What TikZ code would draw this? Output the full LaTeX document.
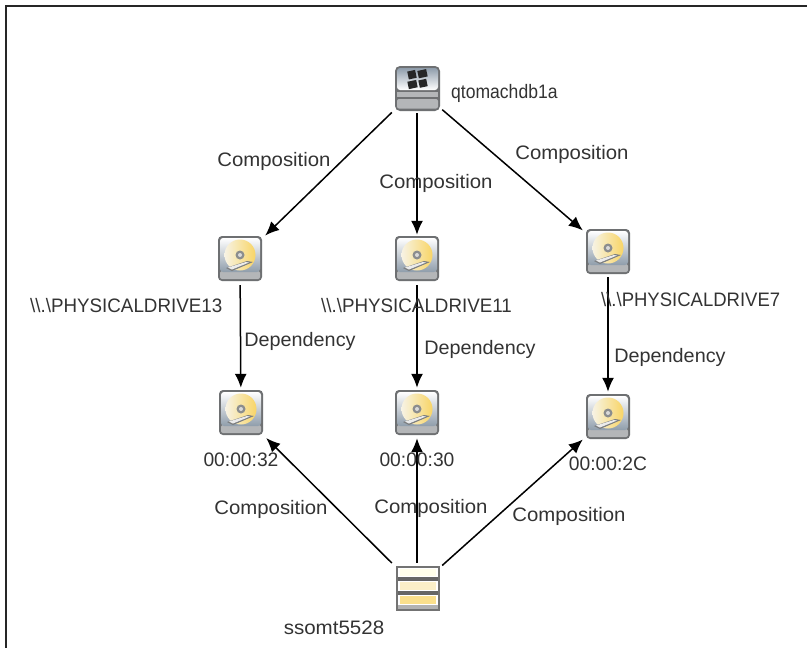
\documentclass[tikz,border=0pt]{standalone}
\usepackage{fontspec}
\setmainfont{Liberation Sans}
\usetikzlibrary{arrows.meta}
\definecolor{steel}{HTML}{8F9DAB}
\definecolor{rimgray}{HTML}{6E7072}
\definecolor{lipgray}{HTML}{B4B6B8}
\definecolor{discy}{HTML}{F8D466}
\definecolor{discw}{HTML}{F7F3E4}
\definecolor{paley}{HTML}{FBEFC8}
\tikzset{
  x=1pt,y=-1pt,
  anchorbox/.style={minimum width=50pt,minimum height=50pt,inner sep=0pt},
  link/.style={draw=black,line width=1.5pt,-{Latex[length=14pt,width=12pt]}},
  lab/.style={font=\fontsize{19.5}{21}\selectfont,text=black!80,inner sep=0pt},
}
\newcommand{\hdicon}[1]{%
  \begin{scope}[shift={(#1)}]
    \fill[rimgray,rounded corners=4pt] (-22,-23) rectangle (22,22);
    \fill[lipgray,rounded corners=2pt] (-20,12) rectangle (20,20);
    \path[top color=white,bottom color=steel,rounded corners=3pt] (-20,-21) rectangle (20,13);
    \path[left color=discw,right color=discy] (0,-4) circle (15.5);
    \fill[rimgray!80] (0,-4) circle (4.5);
    \fill[white!85!black] (0,-4) circle (2);
    \fill[rimgray!90] (-14,9) -- (7,2) -- (13,3) -- (-8,12) -- cycle;
    \fill[white!92!black] (-12,8.5) -- (6,3) -- (9,3.5) -- (-8,10.5) -- cycle;
  \end{scope}}
\begin{document}
\begin{tikzpicture}
\useasboundingbox (0,0) rectangle (807,648);
\fill[white] (0,0) rectangle (807,648);
\draw[line width=2pt,black!85] (6,648) -- (6,5.5) -- (807,5.5);
% invisible nodes
\node[anchorbox] (top) at (417,88) {};
\node[anchorbox] (d13) at (240,260) {};
\node[anchorbox] (d11) at (417,260) {};
\node[anchorbox] (d7) at (608,252) {};
\node[anchorbox] (l32) at (241,413) {};
\node[anchorbox] (l30) at (417,413) {};
\node[anchorbox] (l2c) at (608,417) {};
\node[anchorbox] (bot) at (417,588) {};
% connectors
\draw[link] (top) -- (d13);
\draw[link] (top) -- (d11);
\draw[link] (top) -- (d7);
\draw[link] (d13) -- (l32);
\draw[link] (d11) -- (l30);
\draw[link] (d7) -- (l2c);
\draw[link] (bot) -- (l32);
\draw[link] (bot) -- (l30);
\draw[link] (bot) -- (l2c);
% icons
\hdicon{240,259}\hdicon{417,259}\hdicon{608,252}
\hdicon{241,413}\hdicon{417,413}\hdicon{608,417}
% server icon
\fill[rimgray,rounded corners=5pt] (395,66) rectangle (440,111);
\path[top color=steel,bottom color=white,rounded corners=3pt] (397,68) rectangle (438,90);
\fill[lipgray] (397,91.5) rectangle (438,97);
\fill[lipgray,rounded corners=2pt] (397,99) rectangle (438,108.5);
\begin{scope}[rotate around={12:(418,79)}]
\fill[black!85] (409,69.5) rectangle (417,77.5);
\fill[black!85] (419,71) rectangle (428,78.5);
\fill[black!85] (407,79.5) rectangle (416,87);
\fill[black!85] (418,80.5) rectangle (426,88);
\end{scope}
% storage icon
\fill[black!55] (396,566) rectangle (440,611);
\fill[white] (398,568) rectangle (438,577);
\fill[white!92!yellow] (400,569) rectangle (436,576);
\fill[black!60] (398,577) rectangle (438,581);
\fill[white] (398,581) rectangle (438,591);
\fill[paley] (400,582) rectangle (436,590);
\fill[black!60] (398,591) rectangle (438,595);
\fill[white] (398,595) rectangle (438,605);
\fill[discy!75!white] (400,596) rectangle (436,604);
\fill[black!30] (398,605) rectangle (438,609);
% texts
\node[lab,anchor=west] (t1) at (451,93) {\scalebox{.90}[1]{qtomachdb1a}};
\node[lab,anchor=west] (t2) at (30,306) {\scalebox{.963}[1]{\textbackslash\textbackslash.\textbackslash PHYSICALDRIVE13}};
\node[lab,anchor=west] (t3) at (321,306) {\scalebox{.963}[1]{\textbackslash\textbackslash.\textbackslash PHYSICALDRIVE11}};
\node[lab,anchor=west] (t4) at (601,300) {\scalebox{.949}[1]{\textbackslash\textbackslash.\textbackslash PHYSICALDRIVE7}};
\node[lab] (t5) at (241,460) {\scalebox{.987}[1]{00:00:32}};
\node[lab] (t6) at (417,460) {\scalebox{.987}[1]{00:00:30}};
\node[lab] (t7) at (608,464) {\scalebox{.987}[1]{00:00:2C}};
\node[lab] (t8) at (334,628) {\scalebox{1.053}[1]{ssomt5528}};
\node[lab] (c1) at (274,161) {\scalebox{1.044}[1]{Composition}};
\node[lab] (c2) at (436,183) {\scalebox{1.044}[1]{Composition}};
\node[lab] (c3) at (572,154) {\scalebox{1.044}[1]{Composition}};
\node[lab] (c4) at (271,509) {\scalebox{1.044}[1]{Composition}};
\node[lab] (c5) at (431,508) {\scalebox{1.044}[1]{Composition}};
\node[lab] (c6) at (569,516) {\scalebox{1.044}[1]{Composition}};
\node[lab] (e1) at (300,341) {\scalebox{1.015}[1]{Dependency}};
\node[lab] (e2) at (480,349) {\scalebox{1.015}[1]{Dependency}};
\node[lab] (e3) at (670,357) {\scalebox{1.015}[1]{Dependency}};
\end{tikzpicture}
\end{document}
